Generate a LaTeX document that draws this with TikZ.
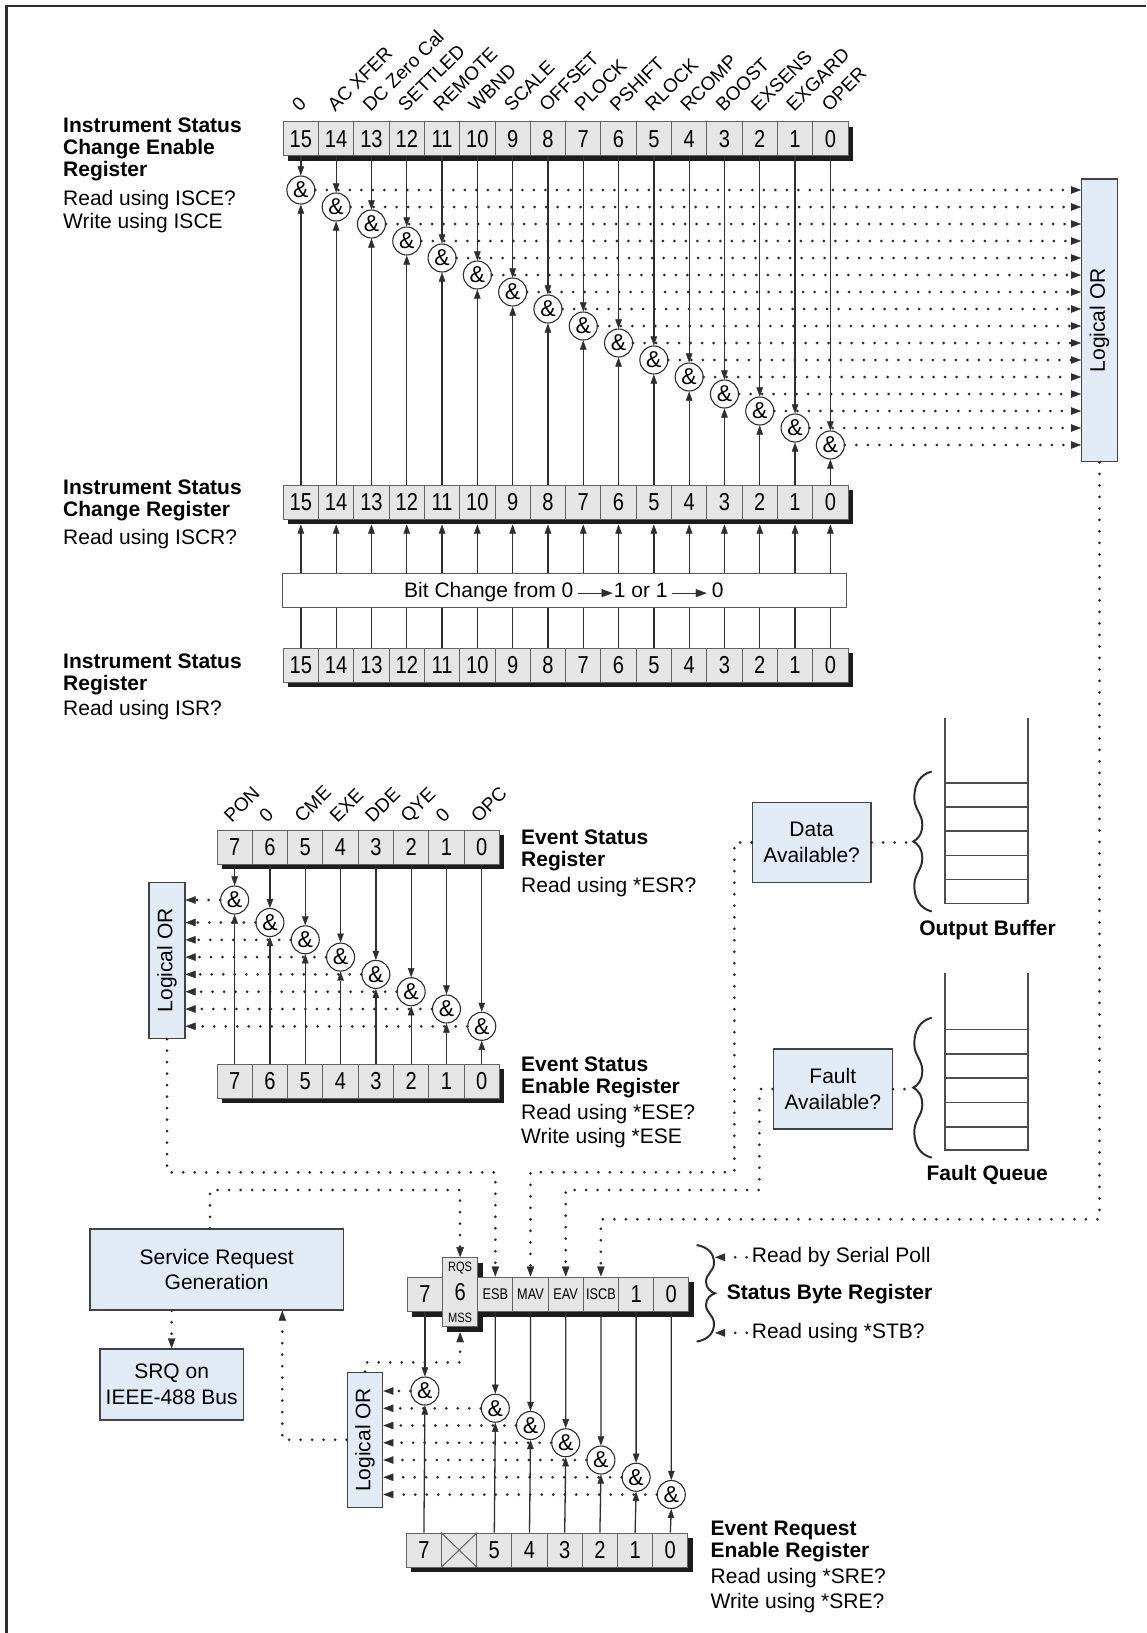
\documentclass[tikz,border=0pt]{standalone}
\usepackage{graphicx}
\usepackage{fontspec}
\setmainfont{Liberation Sans}
\newfontfamily\narrowfont{Liberation Sans}[FakeStretch=0.82]
\usetikzlibrary{arrows.meta,calc}
\definecolor{cellfill}{HTML}{E5E5E5}
\definecolor{boxfill}{HTML}{E2EAF6}
\definecolor{linec}{HTML}{2E2E2E}
\definecolor{shadowc}{HTML}{1C1C1C}
\begin{document}
\begin{tikzpicture}[x=1pt,y=-1pt,
  cell/.style={draw=linec!75,line width=1pt,fill=cellfill,minimum width=35.3pt,minimum height=34pt,inner sep=0pt,font=\narrowfont\fontsize{24.5}{24.5}\selectfont},
  smallcell/.style={cell,font=\narrowfont\fontsize{15.5}{15.5}\selectfont},
  andg/.style={circle,draw=linec,fill=white,line width=1.1pt,minimum size=28pt,inner sep=0pt,font=\fontsize{23}{23}\selectfont},
  bluebox/.style={draw=linec!90,line width=1.4pt,fill=boxfill,inner sep=0pt,align=center,font=\fontsize{21}{25.5}\selectfont},
  ttl/.style={anchor=base west,inner sep=0pt,font=\bfseries\fontsize{21}{21}\selectfont},
  txt/.style={anchor=base west,inner sep=0pt,font=\fontsize{21}{21}\selectfont},
  bitlab/.style={anchor=base west,inner sep=0pt,rotate=45,font=\fontsize{19}{19}\selectfont},
  tinylab/.style={inner sep=0pt,font=\narrowfont\fontsize{13.5}{13.5}\selectfont},
  sline/.style={draw=linec,line width=1.3pt},
  sarrow/.style={-{Triangle[length=9pt,width=6.5pt,line width=0.4pt]}},
  bigarrow/.style={-{Triangle[length=11pt,width=8pt,line width=0.4pt]}},
  dotl/.style={draw=linec,line width=3pt,line cap=round,dash pattern=on 0pt off 11.5pt},
  dah/.style={-{Triangle[length=10pt,width=7.5pt,line width=0.4pt]}},
  stackl/.style={draw=linec!85,line width=1.6pt},
  regshadow/.style={fill=shadowc}
]
\fill[white] (0,0) rectangle (1146,1633);
\useasboundingbox (0,0) rectangle (1146,1633);
% frame
\draw[linec,line width=2.2pt] (6.5,1633) -- (6.5,6) -- (1146,6);

% ===== Instrument status registers =====
\fill[regshadow] (288.2,126.7) rectangle (853.2,160.7);
\fill[regshadow] (288.2,490) rectangle (853.2,524);
\fill[regshadow] (288.2,653) rectangle (853.2,687);
\foreach \k in {0,...,15}{
  \pgfmathtruncatemacro\b{15-\k}
  \pgfmathsetmacro\cx{283.2+35.3*(\k+0.5)}
  \node[cell] (isce\b) at (\cx,138.7) {\b};
  \node[cell] (iscr\b) at (\cx,502) {\b};
  \node[cell] (isr\b) at (\cx,665) {\b};
  \node[andg] (g\b) at (\cx,{190+17*\k}) {\&};
}
\foreach \k/\t in {0/0,1/AC XFER,2/DC Zero Cal,3/SETTLED,4/REMOTE,5/WBND,6/SCALE,7/OFFSET,8/PLOCK,9/PSHIFT,10/RLOCK,11/RCOMP,12/BOOST,13/EXSENS,14/EXGARD,15/OPER}{
  \pgfmathsetmacro\cx{283.2+35.3*(\k+0.5)}
  \node[bitlab] (lab\k) at (\cx-1,113) {\t};
}
\node[bluebox,minimum width=35.6pt,minimum height=282.7pt] (orT) at (1099.5,320.35) {\rotatebox{90}{Logical OR}};
\node[draw=linec!80,line width=1pt,fill=white,minimum width=563.4pt,minimum height=34pt,inner sep=0pt] (bc) at (564.3,590.3) {};
\node[txt] (bcA) at (404,597.8) {Bit Change from 0};
\node[txt] (bcB) at ([xshift=40pt]bcA.base east) {1 or 1};
\node[txt] (bcC) at ([xshift=44pt]bcB.base east) {0};
\draw[sline,bigarrow] ([xshift=4pt,yshift=2pt]bcA.mid east) -- ([xshift=-1pt,yshift=2pt]bcB.mid west);
\draw[sline,bigarrow] ([xshift=4pt,yshift=2pt]bcB.mid east) -- ([xshift=-5pt,yshift=2pt]bcC.mid west);
\foreach \b in {0,...,15}{
  \draw[sline,sarrow] (isce\b.south) -- (g\b.north);
  \draw[sline,sarrow] (iscr\b.north) -- (g\b.south);
  \draw[dotl,dah] (g\b.east) -- (g\b.east -| orT.west);
  \draw[sline,sarrow] (bc.north -| iscr\b) -- ($(iscr\b.south)+(0,5)$);
  \draw[sline] (bc.south -| isr\b) -- (isr\b.north);
}
\node[ttl] (ta1) at (63,132.5) {Instrument Status};
\node[ttl] (ta2) at (63,154.5) {Change Enable};
\node[ttl] (ta3) at (63,176.5) {Register};
\node[txt] (ta4) at (63,205.5) {Read using ISCE?};
\node[txt] (ta5) at (63,228.5) {Write using ISCE};
\node[ttl] (tb1) at (63,494) {Instrument Status};
\node[ttl] (tb2) at (63,516) {Change Register};
\node[txt] (tb3) at (63,544) {Read using ISCR?};
\node[ttl] (tc1) at (63,668) {Instrument Status};
\node[ttl] (tc2) at (63,690) {Register};
\node[txt] (tc3) at (63,715) {Read using ISR?};

% ===== Event status registers =====
\fill[regshadow] (222,835) rectangle (504.4,869);
\fill[regshadow] (222,1069) rectangle (504.4,1103);
\foreach \k/\gy in {0/900,1/922.5,2/939.8,3/957.1,4/974.4,5/991.7,6/1009,7/1026.3}{
  \pgfmathtruncatemacro\b{7-\k}
  \pgfmathsetmacro\cx{217+35.3*(\k+0.5)}
  \node[cell] (esr\b) at (\cx,847) {\b};
  \node[cell] (eser\b) at (\cx,1081) {\b};
  \node[andg] (eg\b) at (\cx,\gy) {\&};
}
\foreach \k/\t in {0/PON,1/0,2/CME,3/EXE,4/DDE,5/QYE,6/0,7/OPC}{
  \pgfmathsetmacro\cx{217+35.3*(\k+0.5)}
  \node[bitlab] (elab\k) at (\cx-3,824) {\t};
}
\node[bluebox,minimum width=35.7pt,minimum height=156pt] (orE) at (167,960.3) {\rotatebox{90}{Logical OR}};
\foreach \b in {0,...,7}{
  \draw[sline,sarrow] (esr\b.south) -- (eg\b.north);
  \draw[sline,sarrow] (eser\b.north) -- (eg\b.south);
  \draw[dotl,dah] (eg\b.west) -- (eg\b.west -| orE.east);
}
\node[ttl] (td1) at (521,844) {Event Status};
\node[ttl] (td2) at (521,866) {Register};
\node[txt] (td3) at (521,892) {Read using *ESR?};
\node[ttl] (te1) at (521,1071) {Event Status};
\node[ttl] (te2) at (521,1093) {Enable Register};
\node[txt] (te3) at (521,1119) {Read using *ESE?};
\node[txt] (te4) at (521,1143) {Write using *ESE};

% ===== Output buffer / fault queue =====
\draw[stackl] (945,718) -- (945,903.3) -- (1027.7,903.3) -- (1027.7,718);
\foreach \yy in {782.7,806.7,831,855.3,879.3} \draw[stackl] (945,\yy) -- (1027.7,\yy);
\draw[stackl] (945,972.7) -- (945,1150) -- (1027.7,1150) -- (1027.7,972.7);
\foreach \yy in {1029.3,1053.7,1078,1102.3,1126.7} \draw[stackl] (945,\yy) -- (1027.7,\yy);
\tikzset{wbrace/.pic={\draw[line width=2pt,linec] (18.4,-70) .. controls (7,-67) and (1,-58) .. (1,-44) .. controls (1,-32) and (9,-28) .. (9,-17) .. controls (9,-7) and (4,-2) .. (0,0) .. controls (4,2) and (9,7) .. (9,17) .. controls (9,28) and (1,32) .. (1,44) .. controls (1,58) and (7,67) .. (18.4,70);}}
\pic at (913.3,841.5) {wbrace};
\pic at (913.3,1087.7) {wbrace};
\node[ttl,anchor=base] (tob) at (987.5,935.5) {Output Buffer};
\node[ttl,anchor=base] (tfq) at (987.2,1180) {Fault Queue};
\node[bluebox,minimum width=118.7pt,minimum height=80.4pt] (data) at (811.65,842.5) {Data\\Available?};
\node[bluebox,minimum width=119pt,minimum height=80pt] (fault) at (832.8,1089) {Fault\\Available?};
\coordinate (obtip) at (913.3,841.5);
\coordinate (fqtip) at (913.3,1087.7);
\draw[dotl] (data.east) -- (data.east -| obtip);
\draw[dotl] (fault.east) -- (fault.east -| fqtip);

% ===== Status byte =====
\fill[regshadow] (412.3,1282) rectangle (694,1316.7);
\fill[regshadow] (447.3,1262.7) rectangle (482.7,1331.7);
\node[cell,minimum width=35.2pt,minimum height=34.7pt] (sb7) at (424.9,1294.35) {7};
\node[cell,minimum width=35.2pt,minimum height=69pt] (sb6) at (460.1,1292.2) {6};
\node[tinylab] (rqs) at (460.1,1268.5) {RQS};
\node[tinylab] (mss) at (460.1,1317.5) {MSS};
\node[smallcell,minimum width=35.2pt,minimum height=34.7pt] (sb5) at (495.3,1294.35) {ESB};
\node[smallcell,minimum width=35.2pt,minimum height=34.7pt] (sb4) at (530.5,1294.35) {MAV};
\node[smallcell,minimum width=35.2pt,minimum height=34.7pt] (sb3) at (565.7,1294.35) {EAV};
\node[smallcell,minimum width=35.2pt,minimum height=34.7pt] (sb2) at (600.9,1294.35) {ISCB};
\node[cell,minimum width=35.2pt,minimum height=34.7pt] (sb1) at (636.1,1294.35) {1};
\node[cell,minimum width=35.2pt,minimum height=34.7pt] (sb0) at (671.3,1294.35) {0};
% SRE
\fill[regshadow] (411.3,1538) rectangle (693,1572);
\foreach \k in {0,...,7}{
  \pgfmathtruncatemacro\b{7-\k}
  \pgfmathsetmacro\cx{406.3+35.2*(\k+0.5)}
  \ifnum\b=6
    \node[cell,minimum width=35.2pt] (sre\b) at (\cx,1550) {};
  \else
    \node[cell,minimum width=35.2pt] (sre\b) at (\cx,1550) {\b};
  \fi
}
\draw[linec!75,line width=1pt] (sre6.north west) -- (sre6.south east) (sre6.south west) -- (sre6.north east);
\foreach \b/\j in {7/0,5/1,4/2,3/3,2/4,1/5,0/6}{
  \pgfmathsetmacro\cx{407.3+35.2*(7-\b+0.5)}
  \node[andg] (sg\b) at (\cx,{1391+17.25*\j}) {\&};
}
\node[bluebox,minimum width=35.4pt,minimum height=135pt] (orS) at (365,1439.8) {\rotatebox{90}{Logical OR}};
\foreach \b in {7,5,4,3,2,1,0}{
  \draw[sline,sarrow] (sb\b.south) -- (sg\b.north);
  \draw[sline,sarrow] (sre\b.north) -- (sg\b.south);
  \draw[dotl,dah] (sg\b.west) -- (sg\b.west -| orS.east);
}
\pic[xscale=-1,yscale=0.69] at (715,1293.3) {wbrace};
\node[txt] (rsp) at (751.7,1262.7) {Read by Serial Poll};
\node[ttl] (sbr) at (726.7,1299) {Status Byte Register};
\node[txt] (rstb) at (751.7,1338.3) {Read using *STB?};
\coordinate (sbtipA) at (715,1256);
\coordinate (sbtipB) at (715,1333.3);
\draw[dotl,dah] ([xshift=-5pt]rsp.west) -- (sbtipA |- rsp.west);
\draw[dotl,dah] ([xshift=-5pt]rstb.west) -- (sbtipB |- rstb.west);
\node[ttl] (tf1) at (710.5,1535) {Event Request};
\node[ttl] (tf2) at (710.5,1557) {Enable Register};
\node[txt] (tf3) at (710.5,1583) {Read using *SRE?};
\node[txt] (tf4) at (710.5,1608) {Write using *SRE?};

% ===== Service request =====
\node[bluebox,minimum width=253.3pt,minimum height=81pt] (srg) at (216.65,1269.5) {Service Request\\Generation};
\node[bluebox,minimum width=143.3pt,minimum height=71pt] (srq) at (171.65,1384.5) {SRQ on\\IEEE-488 Bus};

% ===== dotted connectors =====
\coordinate (yA) at (0,1172.3);
\coordinate (yB) at (0,1190);
\coordinate (yC) at (0,1219.3);
\coordinate (yM) at (0,1362.3);
\coordinate (mx) at (734.3,0);
\coordinate (ex) at (759.3,0);
\coordinate (sx) at (210,0);
\coordinate (px) at (282.3,0);
\draw[dotl,dah] (orT.south) |- (yC -| sb2.north) -- (sb2.north);
\draw[dotl,dah] (orE.south) |- (yA -| sb5.north) -- (sb5.north);
\draw[dotl,dah] (data.west) -- (data.west -| mx) |- (yA -| sb4.north) -- (sb4.north);
\draw[dotl,dah] (fault.west) -- (fault.west -| ex) |- (yB -| sb3.north) -- (sb3.north);
\draw[dotl,dah] (srg.north -| sx) |- (yB -| sb6.north) -- (sb6.north);
\draw[dotl,dah] (srg.south -| srq.north) -- (srq.north);
\draw[dotl,dah] (orS.west) -- (orS.west -| px) -- (px |- srg.south);
\draw[dotl,dah] (orS.north) |- (yM -| sb6.south) -- ($(sb6.south)+(0,5)$);
\end{tikzpicture}
\end{document}
